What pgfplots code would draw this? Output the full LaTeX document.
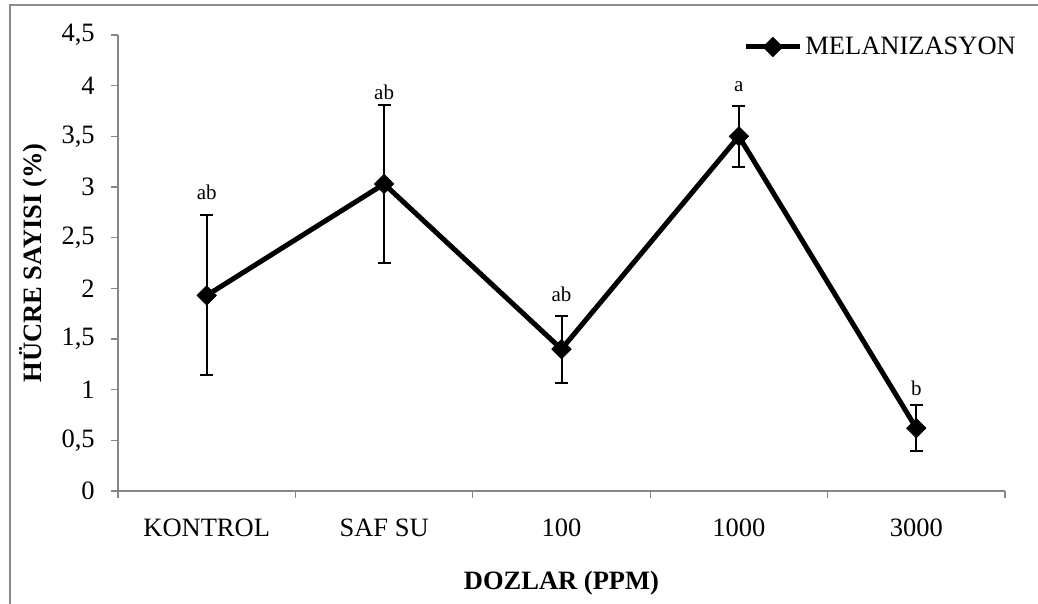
\documentclass[border=0pt]{standalone}
\usepackage{pgfplots}
\pgfplotsset{compat=1.18}
\usepackage{pgfplotstable}
\usepackage{fontspec}
\setmainfont{Liberation Serif}
\definecolor{axisgray}{RGB}{134,134,134}
\definecolor{framegray}{RGB}{140,140,140}

% x: category index, y: mean, e: error, ly: height of the letter label
\pgfplotstableread{
x y    e    ly   lab
0 1.93 0.79 2.87 ab
1 3.03 0.78 3.86 ab
2 1.40 0.33 1.86 ab
3 3.50 0.30 3.94 a
4 0.62 0.23 0.94 b
}\melanizasyon

\newcommand{\bigfont}{\fontsize{13.25}{15}\selectfont}

\begin{document}
\begin{tikzpicture}
\useasboundingbox (0,0) rectangle (519pt,302pt);
\draw[framegray, line width=1.2pt] (5pt,0) -- (5pt,299.5pt) -- (519pt,299.5pt);
\begin{axis}[
  at={(59pt,56.5pt)}, anchor=south west,
  scale only axis, width=443.5pt, height=228pt,
  xmin=-0.5, xmax=4.5, ymin=0, ymax=4.5,
  axis x line*=bottom, axis y line*=left,
  axis line style={axisgray, line width=0.6pt, -},
  tick style={axisgray, line width=0.6pt},
  tick align=outside, major tick length=3.5pt,
  xtick={-0.5,0.5,1.5,2.5,3.5,4.5}, xticklabels={},
  extra x ticks={0,1,2,3,4},
  extra x tick labels={KONTROL,SAF SU,100,1000,3000},
  extra x tick style={major tick length=0pt, xticklabel style={yshift=-10.6pt}},
  ytick={0,0.5,1,1.5,2,2.5,3,3.5,4,4.5},
  yticklabel style={/pgf/number format/use comma, /pgf/number format/fixed,
    /pgf/number format/precision=1, xshift=-4.6pt},
  tick label style={font=\bigfont},
  /pgf/number format/assume math mode=true,
  xlabel={\textbf{DOZLAR (PPM)}},
  ylabel={\textbf{HÜCRE SAYISI (\%)}},
  label style={font=\bigfont},
  xlabel style={at={(axis description cs:0.5,-0.2018)}, anchor=center},
  ylabel style={at={(axis description cs:-0.0958,0.5)}, anchor=center},
  legend style={at={(axis description cs:0.7046,0.9737)}, anchor=west,
    draw=none, fill=none, inner sep=0pt, font=\bigfont,
    nodes={inner sep=1.5pt}},
  legend cell align=left,
  legend image code/.code={%
    \draw[#1, mark repeat=2, mark phase=2]
      plot coordinates {(0pt,0pt) (13.5pt,0pt) (27pt,0pt)};},
  clip=false,
]
\addplot[black, line width=2.5pt,
  mark=square*, mark options={rotate=45, mark size=3.4pt, line width=0.4pt, solid, fill=black},
  error bars/.cd, y dir=both, y explicit,
  error bar style={line width=1pt, black},
  error mark options={rotate=90, black, line width=1pt, mark size=3.25pt}]
  table[x=x, y=y, y error=e] {\melanizasyon};
\addlegendentry{MELANIZASYON}
\addplot[forget plot, draw=none, mark=none,
  nodes near coords, point meta=explicit symbolic,
  nodes near coords style={inner sep=0pt, anchor=south, font=\fontsize{10.5}{12}\selectfont}]
  table[x=x, y=ly, meta=lab] {\melanizasyon};
\end{axis}
\end{tikzpicture}
\end{document}
